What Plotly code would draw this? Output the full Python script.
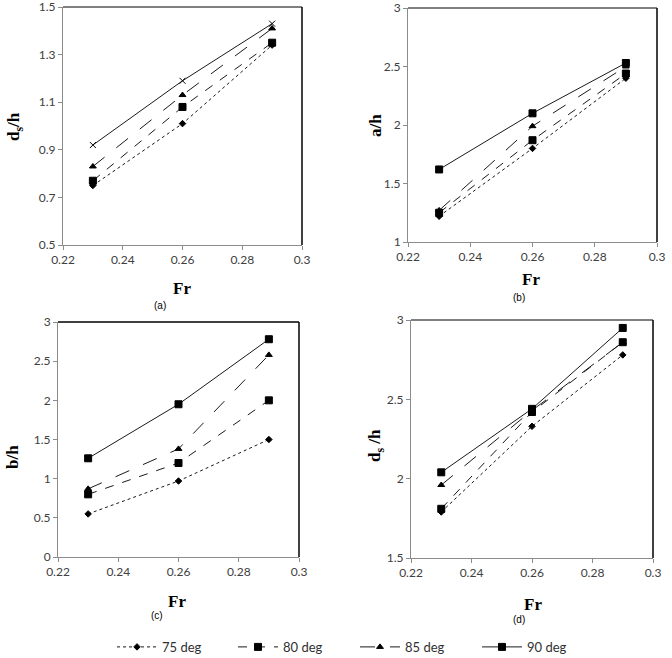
import plotly.graph_objects as go

fr = [0.23, 0.26, 0.29]
x_ticks = [0.22, 0.24, 0.26, 0.28, 0.30]
x_tick_labels = ["0.22", "0.24", "0.26", "0.28", "0.3"]

series_names = ["75 deg", "80 deg", "85 deg", "90 deg"]

a_75 = [0.75, 1.01, 1.34]
a_80 = [0.77, 1.08, 1.35]
a_85 = [0.83, 1.13, 1.41]
a_90 = [0.92, 1.19, 1.43]
a_yticks = [0.5, 0.7, 0.9, 1.1, 1.3, 1.5]

b_75 = [1.22, 1.80, 2.40]
b_80 = [1.25, 1.87, 2.44]
b_85 = [1.27, 1.99, 2.50]
b_90 = [1.62, 2.10, 2.53]
b_yticks = [1, 1.5, 2, 2.5, 3]

c_75 = [0.55, 0.97, 1.50]
c_80 = [0.80, 1.20, 2.00]
c_85 = [0.87, 1.38, 2.58]
c_90 = [1.26, 1.95, 2.78]
c_yticks = [0, 0.5, 1, 1.5, 2, 2.5, 3]

d_75 = [1.79, 2.33, 2.78]
d_80 = [1.81, 2.42, 2.86]
d_85 = [1.96, 2.43, 2.86]
d_90 = [2.04, 2.44, 2.95]
d_yticks = [1.5, 2, 2.5, 3]

panels = [
    ([a_75, a_80, a_85, a_90], "x", "y"),
    ([b_75, b_80, b_85, b_90], "x2", "y2"),
    ([c_75, c_80, c_85, c_90], "x3", "y3"),
    ([d_75, d_80, d_85, d_90], "x4", "y4"),
]

dashes = ["dot", "dash", "longdash", "solid"]
symbols = ["diamond", "square", "triangle-up", "square"]
msizes = [5, 7, 6, 7]
legend_ids = ["legend", "legend2", "legend3", "legend4"]
legend_text_x = [162, 283, 405, 527]

W, H = 672, 658
fig = go.Figure()

for pi, (ser, xa, ya) in enumerate(panels):
    for si, vals in enumerate(ser):
        sym = symbols[si]
        ms = msizes[si]
        if pi == 0 and si == 3:
            sym = "x-thin"
            ms = 6
        fig.add_trace(go.Scatter(
            x=fr, y=vals, xaxis=xa, yaxis=ya,
            mode="lines+markers",
            name=series_names[si],
            legendgroup=series_names[si],
            legend=legend_ids[si],
            showlegend=(pi == 2),
            line=dict(color="#1a1a1a", width=1, dash=dashes[si]),
            marker=dict(symbol=sym, size=ms, color="#000000",
                        line=dict(color="#000000", width=1)),
        ))

def px_x(v):
    return v / W

def px_y(v):
    return 1 - v / H

doms = [
    ((63, 302), (7, 245), a_yticks),
    ((408, 657), (8, 242), b_yticks),
    ((58, 299), (322, 557), c_yticks),
    ((411, 653), (320, 558), d_yticks),
]

tickfont = dict(family="Lato, Open Sans, sans-serif", size=12, color="#404040")
axes = {}
for i, ((x0, x1), (y0, y1), yt) in enumerate(doms):
    sfx = "" if i == 0 else str(i + 1)
    xn = "x" + sfx
    yn = "y" + sfx
    axes["xaxis" + sfx] = dict(
        domain=[px_x(x0), px_x(x1)], anchor=yn,
        range=[x_ticks[0], x_ticks[-1]],
        tickvals=x_ticks, ticktext=x_tick_labels,
        showgrid=False, zeroline=False, automargin=False,
        showline=True, linecolor="#8c8c8c", linewidth=1,
        ticks="outside", ticklen=4, tickcolor="#8c8c8c",
        tickfont=tickfont, ticklabeloverflow="allow",
    )
    axes["yaxis" + sfx] = dict(
        domain=[px_y(y1), px_y(y0)], anchor=xn,
        range=[yt[0], yt[-1]],
        tickvals=yt, ticktext=[("%g" % v) for v in yt],
        showgrid=False, zeroline=False, automargin=False,
        showline=True, linecolor="#8c8c8c", linewidth=1,
        ticks="outside", ticklen=4, tickcolor="#8c8c8c",
        tickfont=tickfont, ticklabeloverflow="allow",
    )

shapes = []
for i in range(4):
    sfx = "" if i == 0 else str(i + 1)
    xr = "x" + sfx + " domain"
    yr = "y" + sfx + " domain"
    shapes.append(dict(type="line", xref=xr, yref=yr, x0=0, x1=1, y0=1, y1=1,
                       line=dict(color="#000000", width=1.5 if i == 2 else 1)))
    shapes.append(dict(type="line", xref=xr, yref=yr, x0=1, x1=1, y0=0, y1=1,
                       line=dict(color="#000000", width=1.5)))

titlefont = dict(family="Liberation Serif, Times New Roman, serif", size=17, color="#000000")
capfont = dict(family="Liberation Sans, Arial, sans-serif", size=10, color="#000000")

ann = []
def add_text(text, x, y, font, angle=0):
    ann.append(dict(text=text, x=px_x(x), y=px_y(y), xref="paper", yref="paper",
                    showarrow=False, font=font, textangle=angle,
                    xanchor="center", yanchor="middle"))

add_text("<b>Fr</b>", 182, 288, titlefont)
add_text("<b>Fr</b>", 531, 280, titlefont)
add_text("<b>Fr</b>", 177, 601, titlefont)
add_text("<b>Fr</b>", 533, 604, titlefont)
add_text("<b>d<sub>s</sub>/h</b>", 15, 127, titlefont, -90)
add_text("<b>a/h</b>", 376, 126, titlefont, -90)
add_text("<b>b/h</b>", 12, 457, titlefont, -90)
add_text("<b>d<sub>s</sub> /h</b>", 376, 446, titlefont, -90)
add_text("(a)", 160, 306, capfont)
add_text("(b)", 519, 297, capfont)
add_text("(c)", 157, 615, capfont)
add_text("(d)", 519, 619, capfont)

legends = {}
for li, lid in enumerate(legend_ids):
    legends[lid] = dict(
        orientation="h", x=px_x(legend_text_x[li] - 50), y=-0.006,
        xanchor="left", yanchor="bottom",
        font=dict(family="Lato, Open Sans, sans-serif", size=13, color="#303030"),
        bgcolor="rgba(0,0,0,0)", itemwidth=40,
    )

fig.update_layout(
    width=W, height=H,
    margin=dict(l=0, r=0, t=0, b=0, autoexpand=False),
    paper_bgcolor="white", plot_bgcolor="white",
    showlegend=True,
    shapes=shapes,
    annotations=ann,
    **legends,
    **axes,
)

fig.write_html("out.html")
